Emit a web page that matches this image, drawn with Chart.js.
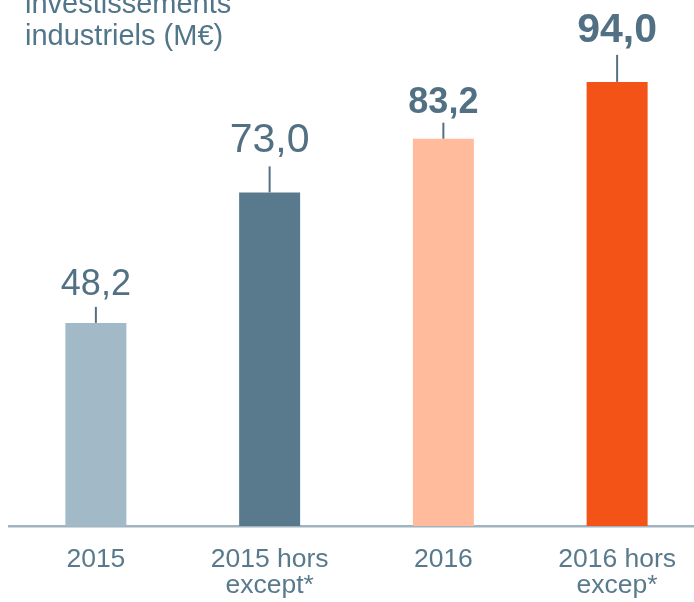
<!DOCTYPE html>
<html>
<head>
<meta charset="utf-8">
<script src="https://cdn.jsdelivr.net/npm/chart.js@4.4.1/dist/chart.umd.min.js"></script>
<style>
  html, body { margin: 0; padding: 0; background: #ffffff; overflow: hidden; width: 694px; height: 602px; }
  #wrap { position: relative; width: 704px; height: 602px; }
  canvas { display: block; }
</style>
</head>
<body>
<div id="wrap"><canvas id="c" width="704" height="602"></canvas></div>
<script>
// ---- data ----
const categories = [["2015"], ["2015 hors", "except*"], ["2016"], ["2016 hors", "excep*"]];
const values = [48.2, 73.0, 83.2, 94.0];
const valueLabels = ["48,2", "73,0", "83,2", "94,0"];
const titleLines = ["investissements", "industriels (M€)"];

// ---- styles ----
const barColors = ["#a2bac7", "#587a8c", "#ffbb9c", "#f45318"];
const labelFonts = ["36px 'Liberation Sans', Arial, sans-serif", "41px 'Liberation Sans', Arial, sans-serif",
                    "bold 36px 'Liberation Sans', Arial, sans-serif", "bold 41px 'Liberation Sans', Arial, sans-serif"];
const leaderLen = [16, 26, 16, 27];
const leaderGap = [12, 14, 10, 13];
const textColor = "#527083";

const valuePlugin = {
  id: 'valueLabels',
  afterDatasetsDraw(chart) {
    const ctx = chart.ctx;
    const meta = chart.getDatasetMeta(0);
    ctx.save();
    meta.data.forEach((bar, i) => {
      const x = bar.x, y = bar.y;
      ctx.strokeStyle = textColor;
      ctx.lineWidth = 2;
      ctx.beginPath();
      ctx.moveTo(x, y);
      ctx.lineTo(x, y - leaderLen[i]);
      ctx.stroke();
      ctx.fillStyle = textColor;
      ctx.font = labelFonts[i];
      ctx.textAlign = 'center';
      ctx.textBaseline = 'alphabetic';
      ctx.fillText(valueLabels[i], x, y - leaderLen[i] - leaderGap[i]);
    });
    // title
    ctx.fillStyle = "#527689";
    ctx.font = "29px 'Liberation Sans', Arial, sans-serif";
    ctx.textAlign = 'left';
    ctx.textBaseline = 'alphabetic';
    ctx.fillText(titleLines[0], 25, 13);
    ctx.fillText(titleLines[1], 25, 45);
    ctx.restore();
  }
};

new Chart(document.getElementById('c'), {
  type: 'bar',
  data: {
    labels: categories,
    datasets: [{
      data: values,
      backgroundColor: barColors,
      borderWidth: 0,
      barPercentage: 0.351,
      categoryPercentage: 1.0
    }]
  },
  options: {
    responsive: false,
    animation: false,
    events: [],
    layout: { padding: { top: 24, left: 9, right: 0, bottom: 0 } },
    plugins: { legend: { display: false }, tooltip: { enabled: false }, title: { display: false } },
    scales: {
      x: {
        grid: { display: false, drawTicks: false },
        border: { display: true, color: "#a0b4c0", width: 2.5 },
        ticks: {
          color: "#587a8c",
          font: { family: "'Liberation Sans', Arial, sans-serif", size: 26.5, lineHeight: 1.0 },
          padding: 20,
          maxRotation: 0,
          autoSkip: false
        },
        afterFit(scale) { scale.height = 76; }
      },
      y: {
        display: false,
        min: 9.6,
        max: 105
      }
    }
  },
  plugins: [valuePlugin]
});
</script>
</body>
</html>
